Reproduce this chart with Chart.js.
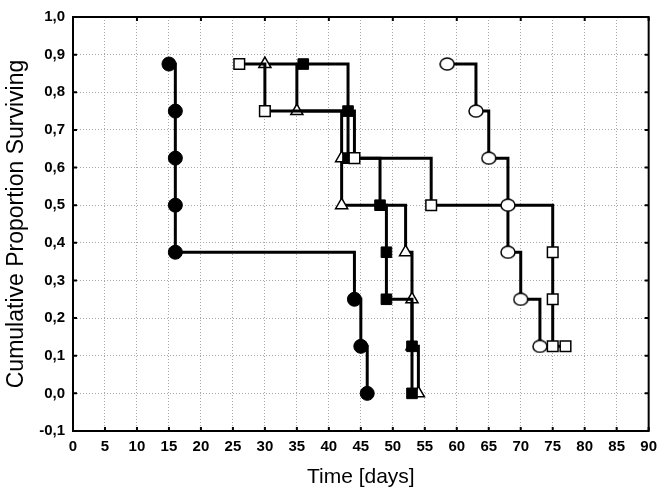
<!DOCTYPE html>
<html>
<head>
<meta charset="utf-8">
<script src="https://cdn.jsdelivr.net/npm/chart.js@4/dist/chart.umd.min.js"></script>
<style>
  html, body { margin: 0; padding: 0; background: #fff; }
  #wrap { position: relative; width: 664px; height: 497px; }
</style>
</head>
<body>
<div id="wrap"><canvas id="chart"></canvas></div>
<script>
// survival times (days) and cumulative proportion surviving, one pair per group
const filledCircleX = [15, 16, 16, 16, 16, 44, 45, 46];
const filledCircleY = [0.875, 0.75, 0.625, 0.5, 0.375, 0.25, 0.125, 0];

const filledSquareX = [36, 43, 43, 48, 49, 49, 53, 53];
const filledSquareY = [0.875, 0.75, 0.625, 0.5, 0.375, 0.25, 0.125, 0];

const triangleX = [30, 35, 42, 42, 52, 53, 53, 54];
const triangleY = [0.875, 0.75, 0.625, 0.5, 0.375, 0.25, 0.125, 0];

const openSquareX = [26, 30, 44, 56, 75, 75, 75, 77];
const openSquareY = [0.875, 0.75, 0.625, 0.5, 0.375, 0.25, 0.125, 0.125];

const openCircleX = [58.5, 63, 65, 68, 68, 70, 73];
const openCircleY = [0.875, 0.75, 0.625, 0.5, 0.375, 0.25, 0.125];

const xTicks = [0, 5, 10, 15, 20, 25, 30, 35, 40, 45, 50, 55, 60, 65, 70, 75, 80, 85, 90];
const yTicks = [-0.1, 0, 0.1, 0.2, 0.3, 0.4, 0.5, 0.6, 0.7, 0.8, 0.9, 1.0];

const pts = (xs, ys) => xs.map((x, i) => ({ x, y: ys[i] }));
const FONT = 'Arial, "Liberation Sans", sans-serif';

// open circle marker is a little wider than tall
function ellipseMarker(w, h) {
  const c = document.createElement('canvas');
  c.width = w + 2; c.height = h + 2;
  const g = c.getContext('2d');
  g.beginPath();
  g.ellipse((w + 2) / 2, (h + 2) / 2, w / 2, h / 2, 0, 0, Math.PI * 2);
  g.fillStyle = '#fff';
  g.fill();
  g.lineWidth = 1.5;
  g.strokeStyle = '#000';
  g.stroke();
  return c;
}

const base = { showLine: true, stepped: true, borderColor: '#000', borderWidth: 3, pointBorderColor: '#000', fill: false };

const innerTicks = {
  id: 'innerTicks',
  afterDraw(chart) {
    const { ctx, chartArea: a, scales: { x, y } } = chart;
    ctx.save();
    ctx.strokeStyle = '#000';
    ctx.lineWidth = 2;
    ctx.beginPath();
    xTicks.forEach(v => {
      const px = x.getPixelForValue(v);
      ctx.moveTo(px, a.bottom); ctx.lineTo(px, a.bottom - 4);
      if (v % 10 === 0) { ctx.moveTo(px, a.top); ctx.lineTo(px, a.top + 4); }
    });
    yTicks.forEach(v => {
      const py = y.getPixelForValue(v);
      ctx.moveTo(a.left, py); ctx.lineTo(a.left + 4, py);
      ctx.moveTo(a.right, py); ctx.lineTo(a.right - 4, py);
    });
    ctx.stroke();
    ctx.restore();
  }
};

new Chart(document.getElementById('chart'), {
  type: 'scatter',
  data: {
    datasets: [
      { ...base, label: 'Group 5', data: pts(openCircleX, openCircleY), pointStyle: ellipseMarker(14, 12), pointRadius: 7 },
      { ...base, label: 'Group 4', data: pts(openSquareX, openSquareY), pointStyle: 'rect', pointRadius: 7.5, pointBackgroundColor: '#fff', pointBorderWidth: 1.5 },
      { ...base, label: 'Group 2', data: pts(filledSquareX, filledSquareY), pointStyle: 'rect', pointRadius: 7.5, pointBackgroundColor: '#000', pointBorderWidth: 1 },
      { ...base, label: 'Group 3', data: pts(triangleX, triangleY), pointStyle: 'triangle', pointRadius: 7, pointBackgroundColor: '#fff', pointBorderWidth: 1.5 },
      { ...base, label: 'Group 1', data: pts(filledCircleX, filledCircleY), pointStyle: 'circle', pointRadius: 7, pointBackgroundColor: '#000', pointBorderWidth: 1 },
    ]
  },
  options: {
    responsive: true,
    maintainAspectRatio: false,
    animation: false,
    layout: { padding: { top: 12, right: 15, left: 0, bottom: 0 } },
    plugins: { legend: { display: false }, tooltip: { enabled: false } },
    elements: { point: { hoverRadius: 7 } },
    scales: {
      x: {
        type: 'linear', min: 0, max: 90,
        afterBuildTicks: s => { s.ticks = xTicks.map(v => ({ value: v })); },
        afterFit: s => { s.height = 66; },
        ticks: { color: '#000', padding: 7, maxRotation: 0, autoSkip: false, font: { family: FONT, size: 15, weight: 'bold' } },
        grid: { color: '#a8a8a8', lineWidth: 1, drawTicks: false },
        border: { color: '#000', width: 2, dash: [1, 2] },
        title: { display: true, text: 'Time [days]', color: '#000', padding: { bottom: 7 }, font: { family: FONT, size: 21 } }
      },
      y: {
        type: 'linear', min: -0.1, max: 1.0,
        afterBuildTicks: s => { s.ticks = yTicks.map(v => ({ value: v })); },
        afterFit: s => { s.width = 73; },
        ticks: { color: '#000', padding: 8, autoSkip: false, callback: v => v.toFixed(1).replace('.', ','), font: { family: FONT, size: 15, weight: 'bold' } },
        grid: { color: '#a8a8a8', lineWidth: 1, drawTicks: false },
        border: { color: '#000', width: 2, dash: [1, 2] },
        title: { display: true, text: 'Cumulative Proportion Surviving', color: '#000', padding: { top: 3 }, font: { family: FONT, size: 23 } }
      }
    }
  },
  plugins: [innerTicks, {
    id: 'frame',
    beforeDatasetsDraw(chart) {
      const { ctx, chartArea: a } = chart;
      ctx.save();
      ctx.strokeStyle = '#000';
      ctx.lineWidth = 2;
      ctx.strokeRect(a.left, a.top, a.right - a.left, a.bottom - a.top);
      ctx.restore();
    }
  }]
});
</script>
</body>
</html>
